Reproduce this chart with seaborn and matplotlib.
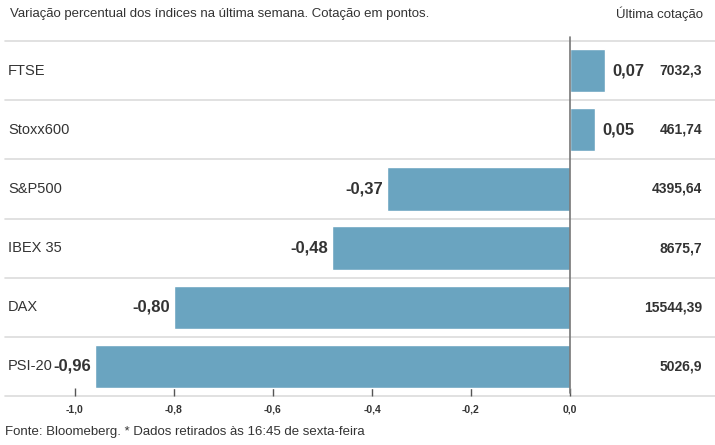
import matplotlib
matplotlib.use('Agg')
import matplotlib.pyplot as plt
import seaborn as sns
import pandas as pd

# Data
indices = ['FTSE', 'Stoxx600', 'S&P500', 'IBEX 35', 'DAX', 'PSI-20']
variation = [0.07, 0.05, -0.37, -0.48, -0.80, -0.96]
last_quote = ['7032,3', '461,74', '4395,64', '8675,7', '15544,39', '5026,9']
ticks = [-1.0, -0.8, -0.6, -0.4, -0.2, 0.0]

title = 'Variação percentual dos índices na última semana. Cotação em pontos.'
quote_header = 'Última cotação'
source = 'Fonte: Bloomeberg. * Dados retirados às 16:45 de sexta-feira'

sns.set_style('white')
plt.rcParams['font.family'] = ['Liberation Sans', 'DejaVu Sans']

bar_color = '#6aa4c0'
text_color = '#333333'
grid_color = '#dcdcdc'

df = pd.DataFrame({'index': indices, 'variation': variation})

fig = plt.figure(figsize=(7.15, 4.45), dpi=100)
W, H = 715, 445
ax = fig.add_axes([5 / W, 1 - 396 / H, 1 - 5 / W, (396 - 41) / H])

sns.barplot(data=df, x='variation', y='index', color=bar_color, saturation=1,
            width=0.73, orient='h', ax=ax)

# x scale: 0 at px 570, -1 at px 75
x_left = (5 - 570) / 495
x_right = (715 - 570) / 495
ax.set_xlim(x_left, x_right)
ax.set_ylim(len(indices) - 0.5, -0.5)

# row separators
for i in range(len(indices) + 1):
    ax.axhline(i - 0.5, color=grid_color, lw=1.2, zorder=0, clip_on=False)
ax.axvline(0, ymin=0.008, ymax=1.012, color='#777777', lw=1.2, zorder=3, clip_on=False)

for s in ax.spines.values():
    s.set_visible(False)

ax.set_yticks([])
ax.set_xlabel('')
ax.set_ylabel('')
ax.set_xticks(ticks)
ax.set_xticklabels([f'{t:.1f}'.replace('.', ',') for t in ticks])
ax.tick_params(axis='x', bottom=True, direction='in', length=6, width=1,
               color='#555555', pad=6, labelsize=7.5, labelcolor=text_color)
for lbl in ax.get_xticklabels():
    lbl.set_fontweight('bold')

# labels per row
for i, (name, v) in enumerate(zip(indices, variation)):
    ax.text(x_left + 3 / 495, i, name, ha='left', va='center', fontsize=10.5,
            color=text_color)
    lab = f'{v:.2f}'.replace('.', ',')
    if v >= 0:
        ax.text(v + 8 / 495, i, lab, ha='left', va='center', fontsize=12,
                fontweight='bold', color=text_color)
    else:
        ax.text(v - 4 / 495, i, lab, ha='right', va='center', fontsize=12,
                fontweight='bold', color=text_color)
    ax.text(x_left + (702 - 5) / 495, i, last_quote[i], ha='right', va='center',
            fontsize=10, fontweight='bold', color=text_color)

fig.text(10 / W, 1 - 14 / H, title, ha='left', va='center', fontsize=9.5, color=text_color)
fig.text(703 / W, 1 - 14 / H, quote_header, ha='right', va='center', fontsize=9.5,
         color=text_color)
fig.text(5 / W, 1 - 432 / H, source, ha='left', va='center', fontsize=9.5, color=text_color)

fig.savefig('out.png', dpi=100)
